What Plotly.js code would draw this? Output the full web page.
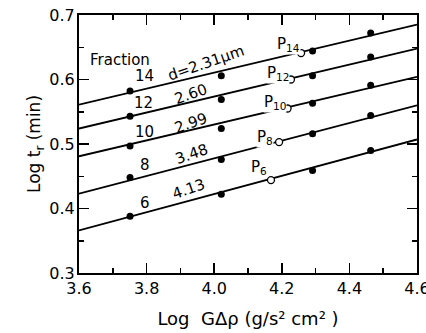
<!DOCTYPE html>
<html><head><meta charset="utf-8">
<script src="https://cdn.plot.ly/plotly-3.0.1.min.js"></script>
<style>html,body{margin:0;padding:0;background:#fff}</style>
</head><body>
<div id="chart" style="width:426px;height:333px"></div>
<script>
// Data
const fractions = ['14', '12', '10', '8', '6'];
const diameters = ['d=2.31\u03bcm', '2.60', '2.99', '3.48', '4.13'];
const lineX = [3.6, 4.6];
const lineLeftY = [0.561, 0.524, 0.481, 0.423, 0.366];
const lineRightY = [0.685, 0.648, 0.604, 0.560, 0.507];
const filledX = [3.751, 4.021, 4.291, 4.463];
const filledY14 = [0.582, 0.606, 0.644, 0.672];
const filledY12 = [0.543, 0.569, 0.606, 0.635];
const filledY10 = [0.497, 0.524, 0.563, 0.591];
const filledY8 = [0.448, 0.476, 0.516, 0.544];
const filledY6 = [0.388, 0.422, 0.459, 0.490];
const openX = [4.257, 4.227, 4.217, 4.192, 4.168];
const openY = [0.641, 0.600, 0.555, 0.503, 0.444];
const pLabels = ['P<sub>14</sub>', 'P<sub>12</sub>', 'P<sub>10</sub>', 'P<sub>8</sub>', 'P<sub>6</sub>'];
const xTicks = [3.6, 3.8, 4.0, 4.2, 4.4, 4.6];
const xTickText = ['3.6', '3.8', '4.0', '4.2', '4.4', '4.6'];
const xMinor = [3.7, 3.9, 4.1, 4.3, 4.5];
const yTicks = [0.3, 0.4, 0.5, 0.6, 0.7];
const yTickText = ['0.3', '0.4', '0.5', '0.6', '0.7'];
const yMinor = [0.35, 0.45, 0.55, 0.65];

// annotation positions (data coords)
const fracLabelX = [3.795, 3.792, 3.795, 3.795, 3.795];
const fracLabelY = [0.605, 0.563, 0.519, 0.467, 0.409];
const dLabelX = [3.976, 3.931, 3.931, 3.934, 3.925];
const dLabelY = [0.626, 0.578, 0.533, 0.484, 0.430];
const pLabelX = [4.220, 4.190, 4.180, 4.149, 4.134];
const pLabelY = [0.654, 0.609, 0.564, 0.510, 0.464];

const filledAll = [filledY14, filledY12, filledY10, filledY8, filledY6];
const FONT = 'DejaVu Sans, sans-serif';
const traces = [];
for (let i = 0; i < fractions.length; i++) {
  traces.push({x: lineX, y: [lineLeftY[i], lineRightY[i]], mode: 'lines',
    line: {color: '#000', width: 1.8}, hoverinfo: 'skip', showlegend: false});
}
for (let i = 0; i < fractions.length; i++) {
  traces.push({x: filledX, y: filledAll[i], mode: 'markers',
    marker: {color: '#000', size: 7}, showlegend: false});
}
// invisible trace to bring up mirrored top/right axes
traces.push({x: [3.6], y: [0.3], xaxis: 'x2', yaxis: 'y2', mode: 'markers',
  marker: {opacity: 0}, showlegend: false, hoverinfo: 'skip'});

const annotations = [];
annotations.push({x: 3.721, y: 0.631, text: 'Fraction', showarrow: false,
  font: {family: FONT, size: 15, color: '#000'}});
for (let i = 0; i < fractions.length; i++) {
  annotations.push({x: fracLabelX[i], y: fracLabelY[i], text: fractions[i], showarrow: false,
    font: {family: FONT, size: 15, color: '#000'}});
  annotations.push({x: dLabelX[i], y: dLabelY[i], text: diameters[i], showarrow: false,
    textangle: -19, font: {family: FONT, size: 15, color: '#000'}});
  annotations.push({x: pLabelX[i], y: pLabelY[i], text: pLabels[i], showarrow: false,
    bgcolor: '#fff', borderpad: 0, font: {family: FONT, size: 15, color: '#000'}});
}
traces.push({x: openX, y: openY, mode: 'markers',
  marker: {color: '#fff', size: 7, line: {color: '#000', width: 1.3}}, showlegend: false});

const tickStyle = {ticks: 'inside', ticklen: 10, tickwidth: 1.5, tickcolor: '#000',
  showline: true, linecolor: '#000', linewidth: 2, showgrid: false, zeroline: false};

const layout = {
  width: 426, height: 333,
  margin: {l: 79, r: 9, t: 15, b: 60},
  paper_bgcolor: '#fff', plot_bgcolor: '#fff',
  font: {family: FONT, size: 16, color: '#000'},
  xaxis: Object.assign({range: [3.6, 4.6], tickvals: xTicks, ticktext: xTickText,
    minor: {tickvals: xMinor, ticks: 'inside', ticklen: 5, tickwidth: 1.5, tickcolor: '#000'},
    tickfont: {family: FONT, size: 16}, ticklabeloverflow: 'allow', ticklabelstandoff: 0,
    title: {text: 'Log  G\u0394\u03c1 (g/s\u00b2 cm\u00b2 )', font: {family: FONT, size: 18}, standoff: 15}}, tickStyle),
  yaxis: Object.assign({range: [0.3, 0.7], tickvals: yTicks, ticktext: yTickText,
    minor: {tickvals: yMinor, ticks: 'inside', ticklen: 5, tickwidth: 1.5, tickcolor: '#000'},
    tickfont: {family: FONT, size: 16}, ticklabelstandoff: -1,
    title: {text: 'Log t<sub>r</sub> (min)', font: {family: FONT, size: 17}, standoff: 4}}, tickStyle),
  xaxis2: Object.assign({range: [3.6, 4.6], overlaying: 'x', side: 'top', anchor: 'y2',
    tickvals: xTicks, showticklabels: false,
    minor: {tickvals: xMinor, ticks: 'inside', ticklen: 5, tickwidth: 1.5, tickcolor: '#000'}}, tickStyle),
  yaxis2: Object.assign({range: [0.3, 0.7], overlaying: 'y', side: 'right', anchor: 'x2',
    tickvals: yTicks, showticklabels: false,
    minor: {tickvals: yMinor, ticks: 'inside', ticklen: 5, tickwidth: 1.5, tickcolor: '#000'}}, tickStyle),
  annotations: annotations,
  showlegend: false
};
Plotly.newPlot('chart', traces, layout, {displayModeBar: false, staticPlot: true});
</script>
</body></html>
